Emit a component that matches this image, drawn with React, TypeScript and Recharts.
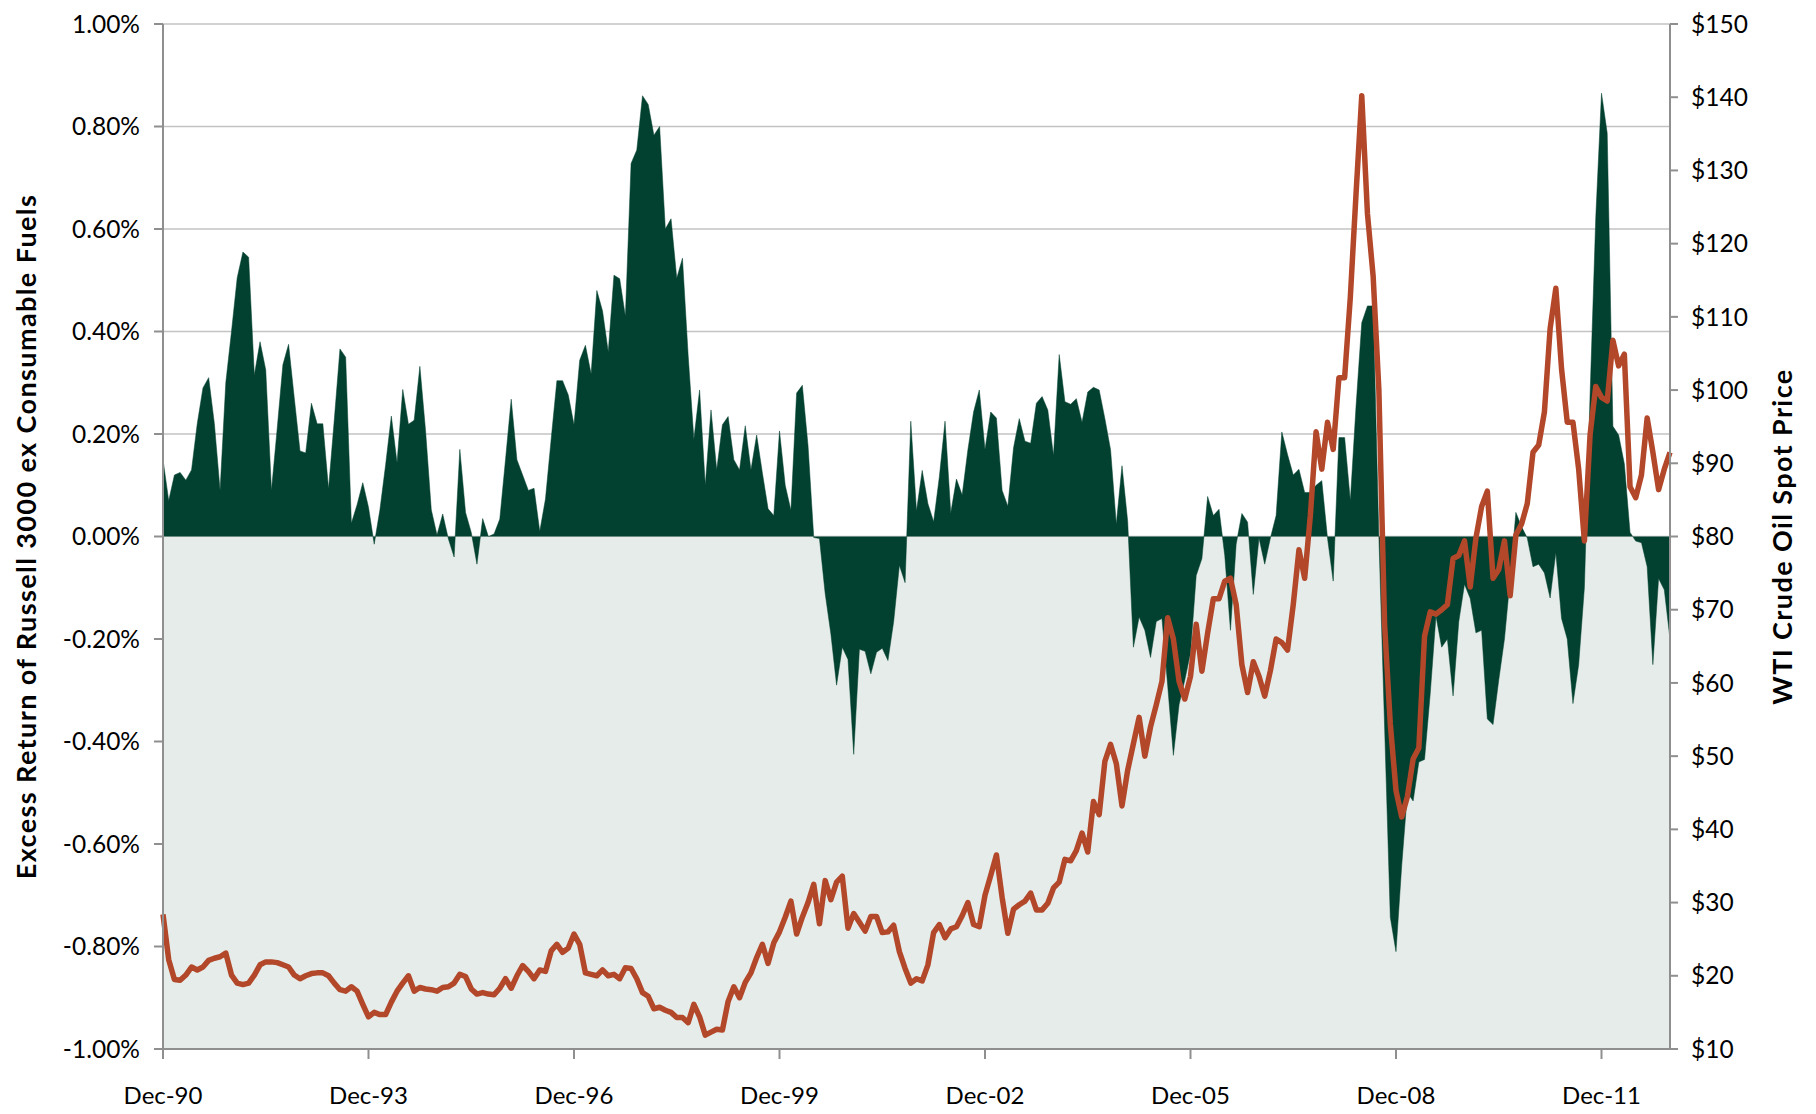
import React from "react";
import {
  ComposedChart,
  Area,
  Line,
  XAxis,
  YAxis,
  CartesianGrid,
  ReferenceArea,
} from "recharts";

// month index 0 = Dec-90, monthly through Dec-12
const tickMonths = [0, 36, 72, 108, 144, 180, 216, 252];
const tickLabels = ["Dec-90", "Dec-93", "Dec-96", "Dec-99", "Dec-02", "Dec-05", "Dec-08", "Dec-11"];

const leftTicks = [-1, -0.8, -0.6, -0.4, -0.2, 0, 0.2, 0.4, 0.6, 0.8, 1];
const rightTicks = [10, 20, 30, 40, 50, 60, 70, 80, 90, 100, 110, 120, 130, 140, 150];

// excess return (%) of Russell 3000 ex consumable fuels
const excessReturn = [
  0.15, 0.07, 0.12, 0.125, 0.11, 0.13, 0.22, 0.29, 0.31, 0.22,
  0.09, 0.3, 0.4, 0.505, 0.555, 0.545, 0.315, 0.38, 0.325, 0.09,
  0.21, 0.335, 0.375, 0.27, 0.167, 0.163, 0.26, 0.22, 0.22, 0.093,
  0.227, 0.366, 0.35, 0.026, 0.062, 0.105, 0.057, -0.015, 0.052, 0.14,
  0.235, 0.144, 0.287, 0.219, 0.227, 0.332, 0.206, 0.052, 0.003, 0.044,
  -0.005, -0.04, 0.17, 0.047, 0.008, -0.054, 0.035, 0.0, 0.005, 0.034,
  0.15, 0.268, 0.15, 0.12, 0.09, 0.094, 0.01, 0.073, 0.19, 0.304,
  0.304, 0.276, 0.218, 0.344, 0.373, 0.317, 0.48, 0.44, 0.36, 0.51,
  0.503, 0.43, 0.728, 0.754, 0.86, 0.843, 0.783, 0.8, 0.6, 0.62,
  0.504, 0.543, 0.353, 0.19, 0.286, 0.1, 0.247, 0.13, 0.218, 0.234,
  0.15, 0.13, 0.216, 0.13, 0.198, 0.124, 0.054, 0.041, 0.206, 0.1,
  0.051, 0.28, 0.295, 0.177, -0.002, -0.004, -0.111, -0.19, -0.29, -0.216,
  -0.24, -0.425, -0.22, -0.224, -0.268, -0.226, -0.218, -0.242, -0.166, -0.056,
  -0.09, 0.225, 0.05, 0.129, 0.064, 0.029, 0.116, 0.225, 0.046, 0.112,
  0.081, 0.169, 0.243, 0.286, 0.17, 0.243, 0.231, 0.09, 0.059, 0.173,
  0.23, 0.186, 0.182, 0.26, 0.273, 0.247, 0.158, 0.355, 0.263, 0.258,
  0.269, 0.223, 0.282, 0.291, 0.286, 0.23, 0.169, 0.024, 0.138, 0.029,
  -0.216, -0.157, -0.183, -0.236, -0.166, -0.16, -0.29, -0.427, -0.328, -0.28,
  -0.227, -0.076, -0.043, 0.078, 0.041, 0.053, -0.037, -0.183, -0.015, 0.045,
  0.028, -0.113, -0.003, -0.054, -0.003, 0.041, 0.204, 0.16, 0.12, 0.131,
  0.086, 0.086, 0.1, 0.109, -0.003, -0.087, 0.193, 0.193, 0.07, 0.254,
  0.417, 0.45, 0.45, 0.0, -0.37, -0.743, -0.81, -0.642, -0.5, -0.516,
  -0.44, -0.435, -0.306, -0.155, -0.216, -0.2, -0.311, -0.166, -0.093, -0.121,
  -0.188, -0.183, -0.356, -0.367, -0.28, -0.2, -0.082, 0.047, 0.019, -0.003,
  -0.059, -0.054, -0.071, -0.12, -0.031, -0.16, -0.2, -0.326, -0.25, -0.1,
  0.277, 0.624, 0.865, 0.787, 0.215, 0.198, 0.142, 0.008, -0.009, -0.012,
  -0.059, -0.25, -0.082, -0.104, -0.2,
];

// WTI crude oil spot price ($), month end
const oilPrice = [
  28.4, 22.2, 19.5, 19.4, 20.1, 21.2, 20.8, 21.2, 22.1, 22.4,
  22.6, 23.1, 20.1, 19.0, 18.8, 19.0, 20.1, 21.5, 21.9, 21.9,
  21.8, 21.5, 21.2, 20.1, 19.6, 20.0, 20.3, 20.4, 20.4, 20.0,
  19.0, 18.1, 17.9, 18.5, 17.9, 16.1, 14.4, 15.0, 14.7, 14.7,
  16.4, 17.9, 19.0, 20.0, 17.9, 18.4, 18.2, 18.1, 17.9, 18.4,
  18.5, 19.0, 20.2, 19.9, 18.2, 17.5, 17.7, 17.5, 17.4, 18.3,
  19.6, 18.3, 20.0, 21.4, 20.6, 19.6, 20.8, 20.6, 23.4, 24.3,
  23.2, 23.8, 25.7, 24.3, 20.4, 20.2, 20.0, 20.8, 20.0, 20.2,
  19.6, 21.1, 21.0, 19.6, 17.7, 17.2, 15.5, 15.7, 15.3, 15.0,
  14.3, 14.3, 13.6, 16.1, 14.4, 11.9, 12.3, 12.7, 12.6, 16.5,
  18.5, 17.0, 19.1, 20.4, 22.5, 24.3, 21.7, 24.5, 26.0, 28.0,
  30.2, 25.7, 28.0, 30.0, 32.5, 27.1, 33.0, 30.4, 32.8, 33.6,
  26.5, 28.5, 27.3, 26.1, 28.1, 28.1, 25.9, 26.0, 26.9, 23.3,
  21.0, 19.0, 19.6, 19.3, 21.5, 25.9, 27.0, 25.2, 26.4, 26.7,
  28.2, 30.0, 27.0, 26.7, 31.0, 33.7, 36.5, 30.7, 25.8, 29.1,
  29.7, 30.2, 31.3, 29.0, 29.0, 29.9, 32.0, 32.8, 35.9, 35.7,
  37.1, 39.5, 36.9, 43.8, 42.0, 49.3, 51.6, 49.0, 43.2, 48.1,
  51.7, 55.3, 50.0, 54.0, 57.0, 60.2, 68.9, 66.0, 60.2, 57.8,
  60.9, 68.0, 61.6, 66.8, 71.5, 71.5, 73.9, 74.3, 70.7, 62.5,
  58.7, 62.9, 60.9, 58.2, 61.7, 66.0, 65.5, 64.5, 70.7, 78.2,
  74.3, 82.9, 94.3, 89.2, 95.6, 91.9, 101.7, 101.7, 112.7, 126.8,
  140.2, 124.1, 115.5, 100.0, 68.0, 54.4, 45.3, 41.7, 44.5, 49.6,
  51.1, 66.4, 69.7, 69.4, 70.0, 70.7, 77.0, 77.4, 79.4, 73.1,
  79.8, 84.1, 86.2, 74.3, 75.5, 79.4, 71.9, 80.2, 81.7, 84.5,
  91.5, 92.5, 97.0, 108.4, 113.9, 102.9, 95.6, 95.6, 89.2, 79.4,
  93.9, 100.5, 99.0, 98.5, 106.8, 103.3, 104.9, 86.8, 85.3, 88.4,
  96.2, 91.5, 86.4, 89.2, 91.5,
];

const data = excessReturn.map((v, i) => ({
  month: i,
  excess: v,
  oil: oilPrice[i],
}));

const FONT = "Lato, 'Open Sans', sans-serif";
const AXIS_GRAY = "#8f8f8f";

const monthLabel = (m: number) => {
  const idx = tickMonths.indexOf(m);
  return idx >= 0 ? tickLabels[idx] : "";
};

const AxisTitle = ({ viewBox, text, dx }: any) => {
  const x = viewBox.x + dx;
  const y = viewBox.y + viewBox.height / 2;
  return (
    <text
      x={x}
      y={y}
      transform={`rotate(-90 ${x} ${y})`}
      textAnchor="middle"
      dominantBaseline="central"
      fontFamily={FONT}
      fontWeight={700}
      fontSize={27}
      letterSpacing={1.4}
      fill="#000"
    >
      {text}
    </text>
  );
};

export default function App() {
  return (
    <div style={{ position: "absolute", left: 0, top: 0, background: "#fff" }}>
      <ComposedChart
        width={1816}
        height={1114}
        data={data}
        margin={{ top: 24, right: 0, bottom: 0, left: 0 }}
        style={{ fontFamily: FONT }}
      >
        <CartesianGrid
          yAxisId="left"
          vertical={false}
          stroke="#c3c3c3"
          strokeWidth={1.6}
        />
        <XAxis
          dataKey="month"
          type="number"
          domain={[0, 264]}
          ticks={tickMonths}
          tickFormatter={monthLabel}
          height={65}
          stroke={AXIS_GRAY}
          strokeWidth={2}
          tickSize={10}
          tickMargin={28}
          tick={{ fill: "#000", fontSize: 24 }}
          interval={0}
        />
        <YAxis
          yAxisId="left"
          orientation="left"
          type="number"
          domain={[-1, 1]}
          ticks={leftTicks}
          tickFormatter={(v: number) => `${v.toFixed(2)}%`}
          width={163}
          stroke={AXIS_GRAY}
          strokeWidth={2}
          tickSize={9}
          tickMargin={14}
          tick={{ fill: "#000", fontSize: 24.5 }}
          interval={0}
          label={(props: any) => (
            <AxisTitle {...props} dx={25} text="Excess Return of Russell 3000 ex Consumable Fuels" />
          )}
        />
        <YAxis
          yAxisId="right"
          orientation="right"
          type="number"
          domain={[10, 150]}
          ticks={rightTicks}
          tickFormatter={(v: number) => `$${v}`}
          width={146}
          stroke={AXIS_GRAY}
          strokeWidth={2}
          tickSize={8}
          tickMargin={13}
          tick={{ fill: "#000", fontSize: 24.5 }}
          interval={0}
          label={(props: any) => (
            <AxisTitle {...props} dx={111} text="WTI Crude Oil Spot Price" />
          )}
        />
        <ReferenceArea
          yAxisId="left"
          y1={-1}
          y2={0}
          fill="#e6ece9"
          fillOpacity={1}
          stroke="none"
          ifOverflow="extendDomain"
        />
        <Area
          yAxisId="left"
          dataKey="excess"
          type="linear"
          baseValue={0}
          fill="#02402f"
          fillOpacity={1}
          stroke="#02402f"
          strokeWidth={0.5}
          isAnimationActive={false}
          dot={false}
          activeDot={false}
        />
        <Line
          yAxisId="right"
          dataKey="oil"
          type="linear"
          stroke="#b2472a"
          strokeWidth={5.5}
          strokeLinejoin="round"
          dot={false}
          activeDot={false}
          isAnimationActive={false}
        />
      </ComposedChart>
    </div>
  );
}
